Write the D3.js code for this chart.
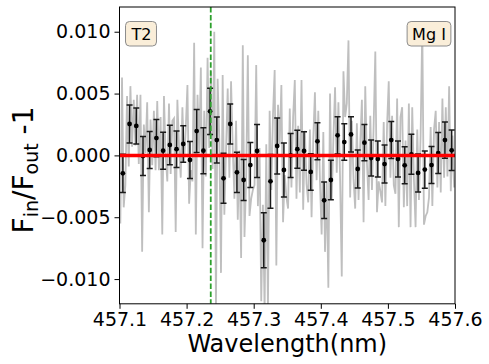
<!DOCTYPE html>
<html>
<head>
    <meta charset="utf-8">
    <title>Mg I T2</title>
    <script src="https://d3js.org/d3.v7.min.js"></script>
    <style>
        body { margin: 0; background-color: #fff; }
        text { font-family: "DejaVu Sans", sans-serif; fill: #000; }
    </style>
</head>
<body>
<svg width="489" height="364"></svg>
<script>
    // binned residuals (bin centres in nm)
    var binStart = 457.105, binStep = 0.01;
    var binValues = [-0.00145, 0.00254, 0.00238, -0.00005, 0.00044, 0.00140, 0.00038, 0.00084, 0.00050, 0.00092,
        -0.00037, 0.00197, 0.00038, 0.00356, 0.00124, -0.00185, 0.00254, -0.00137, -0.00199, -0.00078,
        0.00036, -0.00686, -0.00210, 0.00076, -0.00118, 0.00000, 0.00050, 0.00036, -0.00134, 0.00114,
        -0.00363, -0.00199, 0.00162, 0.00108, 0.00170, -0.00110, 0.00103, -0.00021, -0.00029, -0.00070,
        0.00124, -0.00029, -0.00080, 0.00009, -0.00142, -0.00115, -0.00078, 0.00019, 0.00124, 0.00041];
    var binErrors = [0.00154, 0.00154, 0.00146, 0.00158, 0.00150, 0.00150, 0.00150, 0.00159, 0.00148, 0.00148,
        0.00150, 0.00174, 0.00186, 0.00186, 0.00186, 0.00202, 0.00162, 0.00162, 0.00166, 0.00182,
        0.00214, 0.00222, 0.00218, 0.00226, 0.00218, 0.00178, 0.00154, 0.00156, 0.00148, 0.00150,
        0.00148, 0.00159, 0.00150, 0.00148, 0.00143, 0.00154, 0.00146, 0.00146, 0.00146, 0.00154,
        0.00150, 0.00146, 0.00150, 0.00162, 0.00154, 0.00151, 0.00150, 0.00166, 0.00147, 0.00164];

    // unbinned residual spectrum, 4 samples per bin
    var specStart = 457.10125, specStep = 0.0025;
    var specValues = [
        -0.0055, 0.0063, -0.0042, -0.0024,   0.0048, -0.0009, 0.0056, 0.0007,   0.0045, 0.0008, 0.0049, -0.0007,
        0.0049, -0.0078, 0.0025, 0.0002,    0.0043, -0.0046, 0.0029, -0.0008,   0.0036, -0.0012, 0.0044, -0.0012,
        0.0031, -0.0064, 0.0048, 0.0000,    -0.0021, 0.0042, -0.0015, 0.0028,   0.0030, -0.0062, 0.0045, 0.0007,
        -0.0018, 0.0039, -0.0006, 0.0022,   0.0057, -0.0039, -0.0012, -0.0021,  0.0091, -0.0064, 0.0049, 0.0003,
        0.0071, -0.0075, 0.0036, -0.0017,   0.0079, 0.0006, 0.0068, -0.0011,    0.0100, -0.0125, 0.0062, 0.0013,
        -0.0095, 0.0065, -0.0048, 0.0004,   0.0054, -0.0018, 0.0060, 0.0006,    -0.0035, 0.0028, -0.0052, 0.0004,
        -0.0083, 0.0089, -0.0066, -0.0020,  0.0081, -0.0049, -0.0035, -0.0028,  -0.0024, 0.0073, -0.0041, 0.0006,
        -0.0118, -0.0040, -0.0125, 0.0009,  -0.0125, 0.0036, -0.0028, 0.0033,   0.0069, -0.0089, 0.0041, 0.0009,
        0.0057, -0.0054, -0.0016, -0.0034,  -0.0043, 0.0038, -0.0026, 0.0031,   0.0061, -0.0035, 0.0024, -0.0030,
        0.0061, -0.0044, 0.0020, -0.0023,   -0.0038, 0.0021, -0.0050, 0.0013,   0.0051, -0.0020, 0.0036, -0.0021,
        -0.0064, 0.0019, -0.0078, -0.0022,  -0.0107, 0.0050, -0.0036, 0.0013,   0.0055, -0.0014, 0.0043, -0.0019,
        -0.0098, 0.0068, 0.0031, 0.0042,    0.0093, -0.0034, 0.0028, -0.0019,   -0.0043, 0.0026, -0.0036, 0.0009,
        0.0045, -0.0054, 0.0056, -0.0006,   -0.0036, 0.0032, -0.0028, 0.0024,   0.0084, -0.0046, -0.0021, -0.0029,
        -0.0038, 0.0027, -0.0041, 0.0024,   0.0060, -0.0018, 0.0032, -0.0024,   -0.0031, 0.0046, -0.0058, 0.0031,
        0.0039, -0.0042, 0.0012, -0.0041,   0.0042, -0.0058, 0.0039, -0.0019,   -0.0058, 0.0021, -0.0036, 0.0016,
        0.0105, -0.0056, -0.0049, -0.0046,  -0.0034, 0.0023, -0.0041, 0.0021,   0.0036, -0.0026, 0.0027, -0.0030,
        0.0046, -0.0018, 0.0039, -0.0017,   0.0056, -0.0029, 0.0016, -0.0026];

    var xTicks = [457.1, 457.2, 457.3, 457.4, 457.5, 457.6];
    var yTicks = [-0.010, -0.005, 0.000, 0.005, 0.010];
    var lineCentre = 457.236;
    var panelLabel = "T2", speciesLabel = "Mg I";

    var svg = d3.select("svg");
    var pLeft = 119.5, pTop = 7, pRight = 455, pBottom = 303.8;

    var x = d3.scaleLinear().domain([457.1, 457.6]).range([pLeft, pRight]);
    var y = d3.scaleLinear().domain([-0.012, 0.012]).range([pBottom, pTop]);

    svg.append("defs").append("clipPath").attr("id", "plot")
        .append("rect").attr("x", pLeft).attr("y", pTop)
        .attr("width", pRight - pLeft).attr("height", pBottom - pTop);

    var plot = svg.append("g").attr("clip-path", "url(#plot)");

    var spec = specValues.map(function (v, i) {
        return [specStart + i * specStep, v];
    });
    plot.append("path")
        .datum(spec)
        .attr("fill", "none")
        .attr("stroke", "#bfbfbf")
        .attr("stroke-width", 1.8)
        .attr("d", d3.line()
            .x(function (d) { return x(d[0]); })
            .y(function (d) { return y(d[1]); }));

    var bins = binValues.map(function (v, i) {
        return {w: binStart + i * binStep, v: v, e: binErrors[i]};
    });
    var eb = plot.append("g").selectAll("g").data(bins).enter().append("g")
        .attr("stroke", "#1a1a1a").attr("stroke-width", 1.5);
    eb.append("line")
        .attr("x1", function (d) { return x(d.w); })
        .attr("x2", function (d) { return x(d.w); })
        .attr("y1", function (d) { return y(d.v - d.e); })
        .attr("y2", function (d) { return y(d.v + d.e); });
    eb.append("line")
        .attr("x1", function (d) { return x(d.w) - 3; })
        .attr("x2", function (d) { return x(d.w) + 3; })
        .attr("y1", function (d) { return y(d.v + d.e); })
        .attr("y2", function (d) { return y(d.v + d.e); });
    eb.append("line")
        .attr("x1", function (d) { return x(d.w) - 3; })
        .attr("x2", function (d) { return x(d.w) + 3; })
        .attr("y1", function (d) { return y(d.v - d.e); })
        .attr("y2", function (d) { return y(d.v - d.e); });
    plot.append("g").selectAll("circle").data(bins).enter().append("circle")
        .attr("cx", function (d) { return x(d.w); })
        .attr("cy", function (d) { return y(d.v); })
        .attr("r", 2.4)
        .attr("fill", "#000");

    plot.append("line")
        .attr("x1", pLeft).attr("x2", pRight)
        .attr("y1", y(0)).attr("y2", y(0))
        .attr("stroke", "#ff0000").attr("stroke-width", 3.5);

    plot.append("line")
        .attr("x1", x(lineCentre)).attr("x2", x(lineCentre))
        .attr("y1", pTop).attr("y2", pBottom)
        .attr("stroke", "#2ca02c").attr("stroke-width", 1.8)
        .attr("stroke-dasharray", "5.5,2.4");

    // labels in rounded boxes
    function boxLabel(txt, cx) {
        var g = svg.append("g");
        var t = g.append("text")
            .attr("x", cx).attr("y", 40)
            .attr("text-anchor", "middle")
            .attr("font-size", 16)
            .text(txt);
        var bb = t.node().getBBox();
        g.insert("rect", "text")
            .attr("x", bb.x - 5).attr("y", 21.5)
            .attr("width", bb.width + 10).attr("height", 24.5)
            .attr("rx", 4)
            .attr("fill", "#faeed9")
            .attr("stroke", "#8c8c8c").attr("stroke-width", 1);
    }
    boxLabel(panelLabel, 141.5);
    boxLabel(speciesLabel, 429);

    // axes
    var xAxis = svg.append("g")
        .attr("transform", "translate(0," + pBottom + ")")
        .call(d3.axisBottom(x).tickValues(xTicks).tickSize(5).tickPadding(4)
            .tickFormat(d3.format(".1f")));
    var yAxis = svg.append("g")
        .attr("transform", "translate(" + pLeft + ",0)")
        .call(d3.axisLeft(y).tickValues(yTicks).tickSize(5).tickPadding(4)
            .tickFormat(d3.format(".3f")));
    [xAxis, yAxis].forEach(function (a) {
        a.select(".domain").remove();
        a.selectAll("line").attr("stroke", "#000").attr("stroke-width", 1);
        a.selectAll("text").attr("font-size", 19).attr("font-family", "DejaVu Sans").attr("fill", "#000");
    });

    svg.append("rect")
        .attr("x", pLeft).attr("y", pTop)
        .attr("width", pRight - pLeft).attr("height", pBottom - pTop)
        .attr("fill", "none").attr("stroke", "#000").attr("stroke-width", 1);

    svg.append("text")
        .attr("x", (pLeft + pRight) / 2).attr("y", 352)
        .attr("text-anchor", "middle")
        .attr("font-size", 24)
        .text("Wavelength(nm)");

    var yl = svg.append("text")
        .attr("transform", "translate(33,170) rotate(-90)")
        .attr("text-anchor", "middle")
        .attr("font-size", 28);
    yl.append("tspan").text("F");
    yl.append("tspan").attr("font-size", 19).attr("dy", 5).text("in");
    yl.append("tspan").attr("dy", -5).text("/F");
    yl.append("tspan").attr("font-size", 19).attr("dy", 5).text("out");
    yl.append("tspan").attr("dy", -5).text(" -1");
</script>
</body>
</html>
